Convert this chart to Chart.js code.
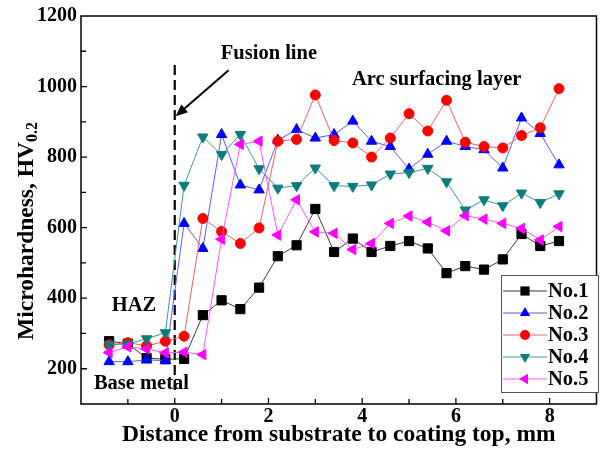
<!DOCTYPE html>
<html lang="en">
<head>
<meta charset="utf-8">
<title>Microhardness profile</title>
<script src="https://cdn.jsdelivr.net/npm/chart.js@4.4.0/dist/chart.umd.min.js"></script>
<style>
  body { margin: 0; background: #fff; }
  #wrap { width: 604px; height: 457px; }
</style>
</head>
<body>
<div id="wrap"><canvas id="hv" width="604" height="457"></canvas></div>
<script>
// distance from substrate, mm (same for every specimen)
const distance = [-1.4, -1.0, -0.6, -0.2, 0.2, 0.6, 1.0, 1.4, 1.8, 2.2, 2.6, 3.0, 3.4,
                  3.8, 4.2, 4.6, 5.0, 5.4, 5.8, 6.2, 6.6, 7.0, 7.4, 7.8, 8.2];
const no1 = [278, 271, 230, 227, 228, 352, 394, 369, 430, 519, 550, 653, 531,
             569, 531, 548, 562, 541, 471, 491, 481, 510, 582, 548, 562];
const no2 = [220, 220, 225, 223, 612, 541, 864, 721, 707, 848, 878, 854, 864,
             902, 845, 830, 766, 808, 845, 830, 821, 769, 911, 867, 778];
const no3 = [268, 274, 265, 278, 292, 626, 589, 555, 599, 845, 850, 976, 847,
             840, 800, 854, 923, 874, 961, 842, 830, 826, 861, 883, 994];
const no4 = [268, 270, 285, 302, 720, 857, 807, 864, 767, 712, 719, 769, 719,
             717, 721, 752, 756, 768, 730, 650, 679, 662, 698, 671, 696];
const no5 = [246, 262, 256, 245, 247, 240, 567, 836, 845, 579, 679, 588, 584,
             538, 555, 612, 633, 616, 591, 634, 624, 612, 598, 565, 603];
const seriesNames = ['No.1', 'No.2', 'No.3', 'No.4', 'No.5'];

const xTickLabels = [0, 2, 4, 6, 8];
const yTickLabels = [200, 400, 600, 800, 1000, 1200];

// fusion line (x = 0) and the arrow pointing at it, in data units
const fusionLine = [{ x: 0, y: 140 }, { x: 0, y: 1075 }];
const arrowFrom = { x: 1.15, y: 1046 };
const arrowTo = { x: 0.02, y: 916 };

const FONT = '"Liberation Serif", "Times New Roman", serif';

const styles = [
    { marker: '#000000', line: '#3a3a3a', pointStyle: 'rect', rotation: 0, radius: 6.5 },
    { marker: '#0000ff', line: '#5a5aff', pointStyle: 'triangle', rotation: 0, radius: 6 },
    { marker: '#ff0000', line: '#f06060', pointStyle: 'circle', rotation: 0, radius: 5 },
    { marker: '#0a7c7c', line: '#3a9898', pointStyle: 'triangle', rotation: 180, radius: 6 },
    { marker: '#ff00ff', line: '#ff55ff', pointStyle: 'triangle', rotation: 270, radius: 6 },
];

const allSeries = [no1, no2, no3, no4, no5];

const datasets = allSeries.map((vals, i) => ({
    label: seriesNames[i],
    data: distance.map((x, k) => ({ x: x, y: vals[k] })),
    showLine: true,
    borderColor: styles[i].line,
    borderWidth: 1,
    pointStyle: styles[i].pointStyle,
    rotation: styles[i].rotation,
    pointRadius: styles[i].radius,
    pointBackgroundColor: styles[i].marker,
    pointBorderColor: styles[i].marker,
    pointBorderWidth: 1,
    order: 10 - i,
}));

datasets.push({
    label: 'fusion',
    data: fusionLine,
    showLine: true,
    borderColor: '#000',
    borderWidth: 2.2,
    borderDash: [10, 5],
    pointRadius: 0,
    order: 20,
});

function drawMarker(ctx, st, x, y) {
    const r = st.radius;
    ctx.fillStyle = st.marker;
    ctx.beginPath();
    if (st.pointStyle === 'rect') {
        const s = Math.SQRT1_2 * r;
        ctx.rect(x - s, y - s, 2 * s, 2 * s);
    } else if (st.pointStyle === 'circle') {
        ctx.arc(x, y, r, 0, Math.PI * 2);
    } else {
        let a = st.rotation * Math.PI / 180;
        for (let k = 0; k < 3; k++) {
            const px = x + Math.sin(a) * r, py = y - Math.cos(a) * r;
            if (k === 0) ctx.moveTo(px, py); else ctx.lineTo(px, py);
            a += 2 * Math.PI / 3;
        }
        ctx.closePath();
    }
    ctx.fill();
}

const decor = {
    id: 'decor',
    afterDraw(chart) {
        const ctx = chart.ctx;
        const a = chart.chartArea;
        const xs = chart.scales.x, ys = chart.scales.y;
        ctx.save();

        // frame
        ctx.strokeStyle = '#000';
        ctx.lineWidth = 1.5;
        ctx.strokeRect(a.left, a.top, a.right - a.left, a.bottom - a.top);

        // inward ticks
        ctx.lineWidth = 1.3;
        ctx.beginPath();
        for (let v = -1; v <= 8; v++) {
            const px = xs.getPixelForValue(v);
            const len = v % 2 === 0 ? 6 : 5;
            ctx.moveTo(px, a.bottom);
            ctx.lineTo(px, a.bottom - len);
        }
        for (let v = 200; v <= 1100; v += 100) {
            const py = ys.getPixelForValue(v);
            const len = v % 200 === 0 ? 6 : 5;
            ctx.moveTo(a.left, py);
            ctx.lineTo(a.left + len, py);
        }
        ctx.stroke();

        // arrow to the fusion line
        const x1 = xs.getPixelForValue(arrowFrom.x), y1 = ys.getPixelForValue(arrowFrom.y);
        const x2 = xs.getPixelForValue(arrowTo.x), y2 = ys.getPixelForValue(arrowTo.y);
        const ang = Math.atan2(y2 - y1, x2 - x1);
        ctx.lineWidth = 2;
        ctx.beginPath();
        ctx.moveTo(x1, y1);
        ctx.lineTo(x2 - Math.cos(ang) * 8, y2 - Math.sin(ang) * 8);
        ctx.stroke();
        ctx.fillStyle = '#000';
        ctx.beginPath();
        ctx.moveTo(x2, y2);
        ctx.lineTo(x2 - Math.cos(ang - 0.4) * 13, y2 - Math.sin(ang - 0.4) * 13);
        ctx.lineTo(x2 - Math.cos(ang + 0.4) * 13, y2 - Math.sin(ang + 0.4) * 13);
        ctx.closePath();
        ctx.fill();

        // annotations
        ctx.fillStyle = '#000';
        ctx.textAlign = 'center';
        ctx.textBaseline = 'middle';
        const note = (txt, x, y, size) => {
            ctx.font = 'bold ' + size + 'px ' + FONT;
            ctx.fillText(txt, xs.getPixelForValue(x), ys.getPixelForValue(y));
        };
        note('Fusion line', 2.01, 1092, 20.5);
        note('Arc surfacing layer', 5.59, 1020, 20.5);
        note('HAZ', -0.87, 379, 20.5);
        note('Base metal', -0.71, 157, 20.5);

        // x title
        ctx.font = 'bold 23.5px ' + FONT;
        ctx.fillText('Distance from substrate to coating top, mm', (a.left + a.right) / 2, 435);

        // y title with subscript
        ctx.save();
        ctx.translate(27, 231);
        ctx.rotate(-Math.PI / 2);
        const mainT = 'Microhardness, HV', subT = '0.2';
        ctx.font = 'bold 23.5px ' + FONT;
        const w1 = ctx.measureText(mainT).width;
        ctx.font = 'bold 16px ' + FONT;
        const w2 = ctx.measureText(subT).width;
        const sx = -(w1 + w2) / 2;
        ctx.textAlign = 'left';
        ctx.font = 'bold 23.5px ' + FONT;
        ctx.fillText(mainT, sx, 0);
        ctx.font = 'bold 16px ' + FONT;
        ctx.fillText(subT, sx + w1, 6);
        ctx.restore();

        // legend
        const lx = 501, ly = 275, lw = 97, lh = 117;
        ctx.fillStyle = '#fff';
        ctx.fillRect(lx, ly, lw, lh);
        ctx.strokeStyle = '#555';
        ctx.lineWidth = 1;
        ctx.strokeRect(lx + 0.5, ly + 0.5, lw, lh);
        ctx.textAlign = 'left';
        ctx.font = 'bold 20.5px ' + FONT;
        styles.forEach((st, i) => {
            const y = ly + 16 + i * 22;
            ctx.strokeStyle = st.line;
            ctx.lineWidth = 1;
            ctx.beginPath();
            ctx.moveTo(lx + 2, y);
            ctx.lineTo(lx + 46, y);
            ctx.stroke();
            drawMarker(ctx, st, lx + 24, y);
            ctx.fillStyle = '#000';
            ctx.fillText(seriesNames[i], lx + 47, y + 1);
        });

        ctx.restore();
    }
};

new Chart(document.getElementById('hv'), {
    type: 'scatter',
    data: { datasets: datasets },
    options: {
        responsive: false,
        animation: false,
        events: [],
        layout: { padding: { left: 0, top: 16, right: 2, bottom: 0 } },
        plugins: { legend: { display: false }, tooltip: { enabled: false } },
        scales: {
            x: {
                type: 'linear',
                min: -2,
                max: 9,
                afterFit: (s) => { s.height = 53; },
                grid: { display: false, drawTicks: false },
                border: { display: false },
                ticks: {
                    stepSize: 1,
                    padding: 1,
                    color: '#000',
                    font: { family: FONT, size: 20, weight: 'bold' },
                    maxRotation: 0,
                    autoSkip: false,
                    callback: (v) => xTickLabels.includes(v) ? String(v) : '',
                },
            },
            y: {
                type: 'linear',
                min: 100,
                max: 1200,
                afterFit: (s) => { s.width = 81; },
                grid: { display: false, drawTicks: false },
                border: { display: false },
                ticks: {
                    stepSize: 100,
                    padding: 4,
                    color: '#000',
                    font: { family: FONT, size: 20, weight: 'bold' },
                    autoSkip: false,
                    callback: (v) => yTickLabels.includes(v) ? String(v) : '',
                },
            },
        },
    },
    plugins: [decor],
});
</script>
</body>
</html>
